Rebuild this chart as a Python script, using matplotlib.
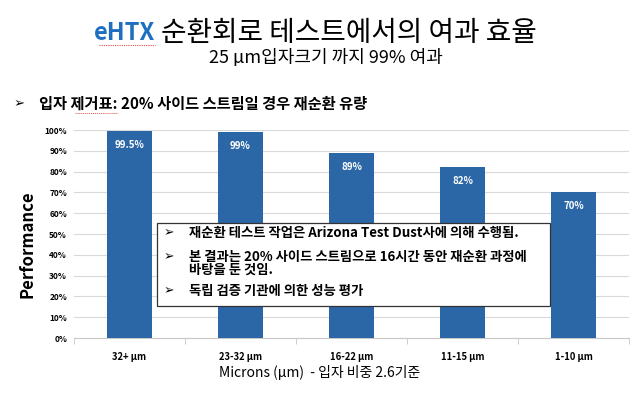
import matplotlib
matplotlib.use("Agg")
import matplotlib.pyplot as plt
from matplotlib.patches import Rectangle
from matplotlib.lines import Line2D

categories = ["32+ µm", "23-32 µm", "16-22 µm", "11-15 µm", "1-10 µm"]
values = [99.5, 99, 89, 82, 70]
value_labels = ["99.5%", "99%", "89%", "82%", "70%"]
yticks = [0, 10, 20, 30, 40, 50, 60, 70, 80, 90, 100]

KR = ["Noto Sans CJK KR", "DejaVu Sans"]
plt.rcParams["font.family"] = KR

W, H = 640, 398
fig = plt.figure(figsize=(6.4, 3.98), dpi=100)
ax = fig.add_axes([74/W, 1-338/H, 555/W, 208/H])

def fx(px):
    return px / W

def fy(py):
    return 1 - py / H

bar_color = "#2b66a6"
x = list(range(len(categories)))
ax.bar(x, values, width=0.4, color=bar_color, zorder=3)
for xi, v, lab in zip(x, values, value_labels):
    ax.text(xi, v - 6.7, lab, ha="center", va="center", color="white",
            fontsize=7, fontweight="bold", zorder=4)

ax.set_xlim(-0.5, len(categories) - 0.5)
ax.set_ylim(0, 100)
ax.set_yticks(yticks)
ax.set_yticklabels([f"{t}%" for t in yticks], fontsize=6, fontweight="bold")
ax.set_xticks(x)
ax.set_xticklabels(categories, fontsize=6.8, fontweight="bold")
ax.tick_params(axis="x", length=0, pad=10)
ax.tick_params(axis="y", length=0, pad=5)
ax.set_xticks([i + 0.5 for i in range(-1, len(categories))], minor=True)
ax.tick_params(axis="x", which="minor", length=4, color="#c8c8c8")
ax.grid(axis="y", color="#d9d9d9", linewidth=0.8, zorder=0)
for s in ["top", "right", "left"]:
    ax.spines[s].set_visible(False)
ax.spines["bottom"].set_color("#c8c8c8")

fig.text(fx(27), fy(244), "Performance", rotation=90, ha="center", va="center",
         fontsize=12, fontweight="bold")

fig.text(fx(320), fy(373), "Microns (µm)  - 입자 비중 2.6기준", ha="center",
         va="center", fontsize=10)

# title
fig.text(fx(155), fy(33), "eHTX", ha="right", va="center",
         fontsize=17, fontweight="bold", color="#1f6fc0")
fig.lines.append(Line2D([fx(99), fx(155)], [fy(45), fy(45)], transform=fig.transFigure,
                        color="#e05050", linewidth=0.8, linestyle=(0, (1, 1))))
fig.text(fx(161), fy(33), "순환회로 테스트에서의 여과 효율", ha="left",
         va="center", fontsize=20, color="black")
fig.text(fx(326), fy(58), "25 µm입자크기 까지 99% 여과", ha="center",
         va="center", fontsize=13)

fig.text(fx(14), fy(104), "➢", ha="left", va="center", fontsize=9.5,
         family="DejaVu Sans")
fig.text(fx(39), fy(104), "입자 제거표: 20% 사이드 스트림일 경우 재순환 유량",
         ha="left", va="center", fontsize=11, fontweight="bold")
fig.lines.append(Line2D([fx(75), fx(118)], [fy(113), fy(113)], transform=fig.transFigure,
                        color="#e05050", linewidth=0.7, linestyle=(0, (1, 1))))

# text box
bx0, by0, bx1, by1 = 157, 223, 550, 306
fig.patches.append(Rectangle((fx(bx0), fy(by1)), (bx1-bx0)/W, (by1-by0)/H,
                             transform=fig.transFigure, facecolor="white",
                             edgecolor="#333333", linewidth=0.9, zorder=5))
lines = [
    (233, "재순환 테스트 작업은 Arizona Test Dust사에 의해 수행됨.", True),
    (257, "본 결과는 20% 사이드 스트림으로 16시간 동안 재순환 과정에", True),
    (270, "바탕을 둔 것임.", False),
    (291, "독립 검증 기관에 의한 성능 평가", True),
]
for y, txt, bullet in lines:
    if bullet:
        fig.text(fx(164), fy(y), "➢", ha="left", va="center", fontsize=9,
                 family="DejaVu Sans", zorder=6)
    fig.text(fx(189), fy(y), txt, ha="left", va="center", fontsize=9.6,
             fontweight="bold", zorder=6)

fig.savefig("out.png", dpi=100)
